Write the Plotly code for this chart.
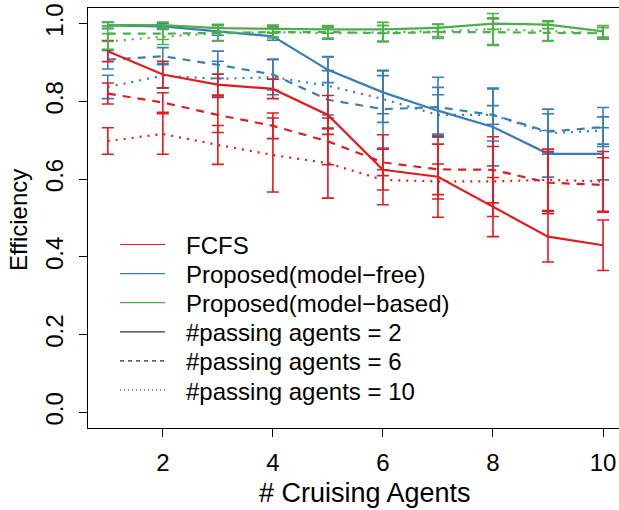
import plotly.graph_objects as go

agents = [1, 2, 3, 4, 5, 6, 7, 8, 9, 10]

red_solid = [0.929, 0.869, 0.843, 0.832, 0.765, 0.624, 0.606, 0.528, 0.452, 0.430]
red_solid_err = [0.027, 0.034, 0.027, 0.025, 0.050, 0.090, 0.104, 0.076, 0.065, 0.065]
red_dashed = [0.820, 0.797, 0.765, 0.737, 0.697, 0.643, 0.625, 0.624, 0.591, 0.585]
red_dashed_err = [0.027, 0.025, 0.045, 0.033, 0.060, 0.034, 0.065, 0.085, 0.080, 0.070]
red_dotted = [0.698, 0.716, 0.688, 0.662, 0.641, 0.598, 0.594, 0.594, 0.598, 0.594]
red_dotted_err = [0.034, 0.052, 0.050, 0.095, 0.090, 0.026, 0.045, 0.090, 0.079, 0.077]

blue_solid = [0.995, 0.993, 0.980, 0.967, 0.881, 0.823, 0.776, 0.734, 0.665, 0.665]
blue_solid_err = [0.008, 0.008, 0.010, 0.010, 0.033, 0.055, 0.060, 0.100, 0.060, 0.067]
blue_dashed = [0.907, 0.916, 0.894, 0.869, 0.804, 0.780, 0.785, 0.765, 0.722, 0.734]
blue_dashed_err = [0.024, 0.022, 0.035, 0.040, 0.075, 0.100, 0.077, 0.067, 0.058, 0.050]
blue_dotted = [0.837, 0.866, 0.858, 0.862, 0.840, 0.806, 0.765, 0.765, 0.718, 0.725]
blue_dotted_err = [0.030, 0.032, 0.045, 0.045, 0.075, 0.060, 0.052, 0.024, 0.050, 0.035]

green_solid = [0.996, 0.996, 0.988, 0.986, 0.985, 0.985, 0.989, 1.000, 0.997, 0.980]
green_solid_err = [0.008, 0.008, 0.010, 0.010, 0.010, 0.010, 0.010, 0.015, 0.010, 0.015]
green_dashed = [0.974, 0.974, 0.976, 0.978, 0.978, 0.975, 0.978, 0.978, 0.976, 0.975]
green_dashed_err = [0.020, 0.015, 0.020, 0.012, 0.015, 0.020, 0.012, 0.034, 0.020, 0.015]
green_dotted = [0.954, 0.966, 0.975, 0.978, 0.975, 0.978, 0.980, 0.986, 0.980, 0.975]
green_dotted_err = [0.020, 0.020, 0.020, 0.015, 0.015, 0.025, 0.018, 0.040, 0.025, 0.015]

legend_labels = ["FCFS", "Proposed(model\u2212free)", "Proposed(model\u2212based)",
                 "#passing agents = 2", "#passing agents = 6", "#passing agents = 10"]

RED = "#E41A1C"
BLUE = "#377EB8"
GREEN = "#4DAF4A"
DASH = "8px,7px"
DOT = "2px,6px"
FONT = "Liberation Sans, Arial, Helvetica, sans-serif"
FS = 24

series = [
    (blue_solid, blue_solid_err, BLUE, "solid"),
    (blue_dashed, blue_dashed_err, BLUE, DASH),
    (blue_dotted, blue_dotted_err, BLUE, DOT),
    (red_solid, red_solid_err, RED, "solid"),
    (red_dashed, red_dashed_err, RED, DASH),
    (red_dotted, red_dotted_err, RED, DOT),
    (green_solid, green_solid_err, GREEN, "solid"),
    (green_dashed, green_dashed_err, GREEN, DASH),
    (green_dotted, green_dotted_err, GREEN, DOT),
]

fig = go.Figure()
for vals, errs, col, dash in series:
    fig.add_trace(go.Scatter(
        x=agents, y=vals, mode="lines",
        line=dict(color=col, width=2.2, dash=dash),
        error_y=dict(type="data", array=errs, visible=True, color=col,
                     thickness=1.6, width=6),
        showlegend=False, hoverinfo="skip",
    ))

# plot area geometry (pixels) used for placing the legend in paper coordinates
L, T, W, H = 88, 8, 531, 420
def px(xp):
    return (xp - L) / W
def py(yp):
    return (T + H - yp) / H

legend_styles = [(RED, "solid"), (BLUE, "solid"), (GREEN, "solid"),
                 ("#333333", "solid"), ("#333333", "4px,4px"), ("#333333", "1px,3px")]
shapes = []
annotations = []
row0, row_gap = 244.5, 29.1
for i, (label, (col, dash)) in enumerate(zip(legend_labels, legend_styles)):
    yy = row0 + i * row_gap
    shapes.append(dict(type="line", xref="paper", yref="paper",
                       x0=px(120), x1=px(165), y0=py(yy), y1=py(yy),
                       line=dict(color=col, width=1.2, dash=dash)))
    annotations.append(dict(text=label, xref="paper", yref="paper",
                            x=px(184), y=py(yy + 1), xanchor="left", yanchor="middle",
                            showarrow=False, font=dict(family=FONT, size=FS, color="black")))

annotations.append(dict(text="# Cruising Agents", xref="paper", yref="paper",
                        x=px(365), y=py(493), xanchor="center", yanchor="middle",
                        showarrow=False, font=dict(family=FONT, size=27)))
annotations.append(dict(text="Efficiency", xref="paper", yref="paper",
                        x=px(18), y=py(220), xanchor="center", yanchor="middle",
                        textangle=-90, showarrow=False, font=dict(family=FONT, size=FS)))

fig.update_layout(
    width=619, height=510,
    margin=dict(l=L, r=619 - L - W, t=T, b=510 - T - H),
    plot_bgcolor="white", paper_bgcolor="white",
    font=dict(family=FONT, size=FS, color="black"),
    showlegend=False,
    xaxis=dict(
        range=[0.64, 10.29], tickvals=[2, 4, 6, 8, 10],
        showgrid=False, zeroline=False,
        showline=True, linecolor="black", linewidth=1.2, mirror=True,
        ticks="outside", ticklen=8, tickcolor="black", tickwidth=1.2,
        ticklabelstandoff=5, tickfont=dict(size=FS),
    ),
    yaxis=dict(
        range=[-0.04, 1.04], tickvals=[0, 0.2, 0.4, 0.6, 0.8, 1.0],
        ticktext=["0.0", "0.2", "0.4", "0.6", "0.8", "1.0"],
        tickangle=-90,
        showgrid=False, zeroline=False,
        showline=True, linecolor="black", linewidth=1.2, mirror=False,
        ticks="outside", ticklen=8, tickcolor="black", tickwidth=1.2,
        ticklabelstandoff=6, tickfont=dict(size=FS),
    ),
    shapes=shapes,
    annotations=annotations,
)

fig.write_html("out.html")
